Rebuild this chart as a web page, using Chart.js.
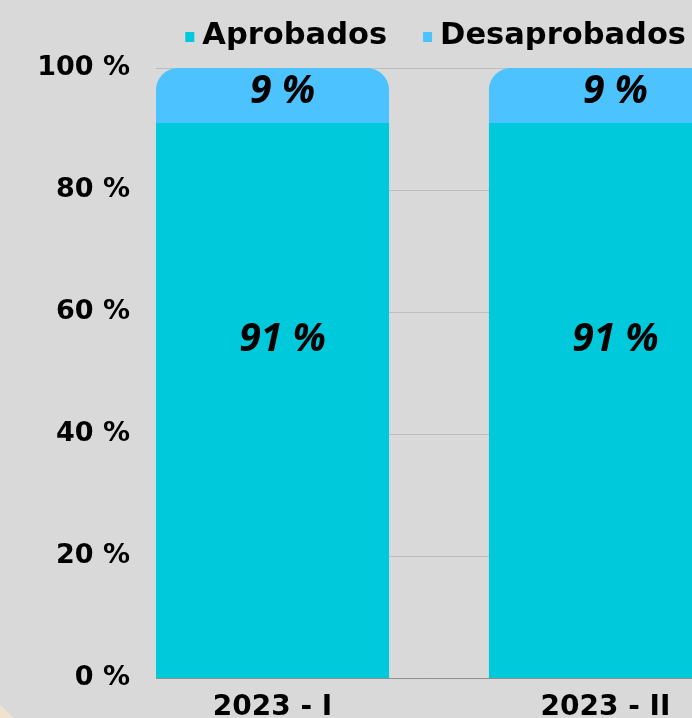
<!DOCTYPE html>
<html>
<head>
<meta charset="utf-8">
<script src="https://cdn.jsdelivr.net/npm/chart.js@4/dist/chart.umd.min.js"></script>
<style>
  html, body { margin: 0; padding: 0; background: #d9d9d9; overflow: hidden; width: 692px; height: 718px; }
  #wrap { position: relative; width: 692px; height: 738px; }
  #corner { position: absolute; left: 0; top: 702px; width: 22px; height: 16px; background: #efe3cf;
            clip-path: polygon(0 15%, 62% 100%, 0 100%); }
</style>
</head>
<body>
<div id="wrap"><canvas id="c"></canvas></div>
<div id="corner"></div>
<script>
// Semesters and the share of students in each group (percent)
const categories = ['2023 - I', '2023 - II'];
const aprobados = [91, 91];
const desaprobados = [9, 9];
const yTickStep = 20;

const FONT = 'DejaVu Sans';
const LABEL_FONT = 'Open Sans';

const toPoints = arr => arr.map((v, i) => ({ x: i, y: v }));

// Value labels inside each bar segment
const valueLabels = {
  id: 'valueLabels',
  afterDatasetsDraw(chart, args, opts) {
    const ctx = chart.ctx;
    ctx.save();
    ctx.font = `italic bold ${opts.size}px "${LABEL_FONT}"`;
    ctx.fillStyle = '#000';
    ctx.textAlign = 'center';
    ctx.textBaseline = 'middle';
    chart.data.datasets.forEach((ds, di) => {
      const meta = chart.getDatasetMeta(di);
      const dy = (opts.offsetY && opts.offsetY[di]) || 0;
      meta.data.forEach((el, i) => {
        const v = ds.data[i].y;
        const cy = (el.y + el.base) / 2 + dy;
        ctx.fillText(v + ' %', el.x + opts.offsetX, cy);
      });
    });
    ctx.restore();
  }
};

// Compact legend row: small square swatch + bold name, right-aligned
const topLegend = {
  id: 'topLegend',
  afterDraw(chart, args, opts) {
    const ctx = chart.ctx;
    ctx.save();
    ctx.font = `bold ${opts.size}px "${FONT}"`;
    ctx.textBaseline = 'alphabetic';
    ctx.textAlign = 'left';
    const items = chart.data.datasets.map(ds => ({
      text: ds.label, color: ds.backgroundColor, w: ctx.measureText(ds.label).width
    }));
    let total = 0;
    items.forEach((it, i) => {
      total += opts.box + opts.boxGap + it.w + (i ? opts.itemGap : 0);
    });
    let x = opts.right - total;
    items.forEach((it, i) => {
      if (i) x += opts.itemGap;
      ctx.fillStyle = it.color;
      ctx.fillRect(x, opts.baseline - 12, opts.box, opts.box + 1);
      x += opts.box + opts.boxGap;
      ctx.fillStyle = '#000';
      ctx.fillText(it.text, x, opts.baseline);
      x += it.w;
    });
    ctx.restore();
  }
};

new Chart(document.getElementById('c'), {
  type: 'bar',
  data: {
    datasets: [
      {
        label: 'Aprobados',
        data: toPoints(aprobados),
        backgroundColor: '#00c9dc',
        borderWidth: 0,
        borderRadius: 0,
        categoryPercentage: 1,
        barPercentage: 0.7
      },
      {
        label: 'Desaprobados',
        data: toPoints(desaprobados),
        backgroundColor: '#4cc3ff',
        borderWidth: 0,
        borderSkipped: false,
        borderRadius: { topLeft: 22, topRight: 22, bottomLeft: 0, bottomRight: 0 },
        categoryPercentage: 1,
        barPercentage: 0.7
      }
    ]
  },
  options: {
    responsive: true,
    maintainAspectRatio: false,
    animation: false,
    layout: { padding: { top: 68, left: 0, right: 0, bottom: 0 } },
    plugins: {
      legend: { display: false },
      tooltip: { enabled: false },
      topLegend: { size: 30.5, right: 686, baseline: 44, box: 9, boxGap: 8, itemGap: 36 },
      valueLabels: { size: 39, offsetX: 10, offsetY: [-61, -4] }
    },
    scales: {
      x: {
        type: 'linear',
        stacked: true,
        offset: false,
        min: -0.35,
        max: 1.26,
        grid: { display: false, drawTicks: false, offset: false },
        border: { display: true, color: '#8f8f8f', width: 1 },
        afterBuildTicks(scale) {
          scale.ticks = categories.map((_, i) => ({ value: i }));
        },
        ticks: {
          color: '#000',
          font: { family: FONT, weight: 'bold', size: 28 },
          padding: 13,
          autoSkip: false,
          maxRotation: 0,
          callback: v => categories[v]
        }
      },
      y: {
        stacked: true,
        min: 0,
        max: 100,
        afterFit(scale) { scale.width = 156; },
        grid: { color: '#bdbdbd', lineWidth: 1, drawTicks: false },
        border: { display: false },
        ticks: {
          stepSize: yTickStep,
          color: '#000',
          font: { family: FONT, weight: 'bold', size: 27 },
          padding: 26,
          callback: v => v + ' %'
        }
      }
    }
  },
  plugins: [valueLabels, topLegend]
});
</script>
</body>
</html>
